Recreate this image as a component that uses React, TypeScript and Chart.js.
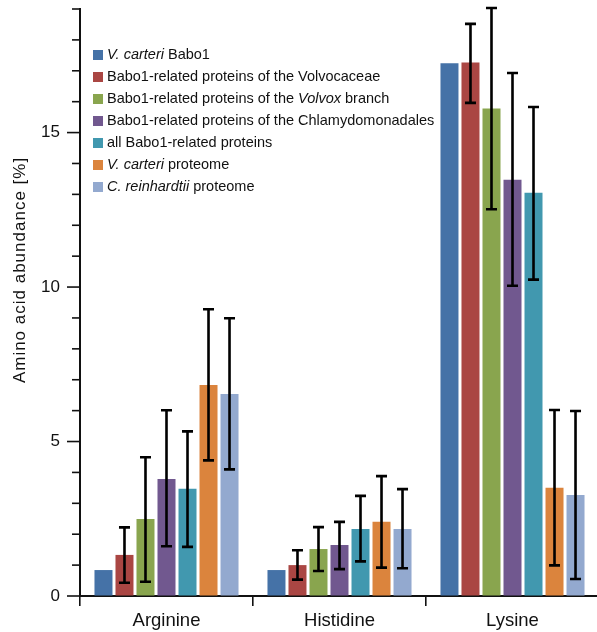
import React, { useEffect, useRef } from 'react';
import { Chart, registerables } from 'chart.js';

Chart.register(...registerables);

const categories = ['Arginine', 'Histidine', 'Lysine'];

const legendTexts: [string, boolean][][] = [
  [['V. carteri', true], [' Babo1', false]],
  [['Babo1-related proteins of the Volvocaceae', false]],
  [['Babo1-related proteins of the ', false], ['Volvox', true], [' branch', false]],
  [['Babo1-related proteins of the Chlamydomonadales', false]],
  [['all Babo1-related proteins', false]],
  [['V. carteri', true], [' proteome', false]],
  [['C. reinhardtii', true], [' proteome', false]],
];
const seriesNames = legendTexts.map((segs) => segs.map((s) => s[0]).join(''));

const seriesColors = ['#4572A7', '#AA4643', '#89A54E', '#71588F', '#4198AF', '#DB843D', '#93A9CF'];

const babo1Values = [0.84, 0.84, 17.24];

const volvocaceaeValues = [1.33, 1.0, 17.27];
const volvocaceaeLow = [0.43, 0.53, 15.96];
const volvocaceaeHigh = [2.22, 1.48, 18.52];

const volvoxValues = [2.49, 1.52, 15.78];
const volvoxLow = [0.46, 0.81, 12.52];
const volvoxHigh = [4.49, 2.23, 19.03];

const chlamyValues = [3.79, 1.65, 13.47];
const chlamyLow = [1.61, 0.87, 10.04];
const chlamyHigh = [6.01, 2.4, 16.93];

const allValues = [3.47, 2.17, 13.05];
const allLow = [1.59, 1.12, 10.24];
const allHigh = [5.33, 3.24, 15.83];

const vcarteriValues = [6.83, 2.4, 3.5];
const vcarteriLow = [4.39, 0.92, 0.99];
const vcarteriHigh = [9.28, 3.88, 6.02];

const creinValues = [6.54, 2.17, 3.27];
const creinLow = [4.1, 0.9, 0.55];
const creinHigh = [8.99, 3.46, 5.99];

const seriesValues = [babo1Values, volvocaceaeValues, volvoxValues, chlamyValues, allValues, vcarteriValues, creinValues];
const seriesLow: (number[] | null)[] = [null, volvocaceaeLow, volvoxLow, chlamyLow, allLow, vcarteriLow, creinLow];
const seriesHigh: (number[] | null)[] = [null, volvocaceaeHigh, volvoxHigh, chlamyHigh, allHigh, vcarteriHigh, creinHigh];

const yMin = 0;
const yMax = 19;
const yTitle = 'Amino acid abundance [%]';

const FONT = '"Liberation Sans", Arial, Helvetica, sans-serif';
const INK = '#111';

const decorPlugin = {
  id: 'decor',
  afterDatasetsDraw(chart: any) {
    const ctx = chart.ctx as CanvasRenderingContext2D;
    const yScale = chart.scales.y;
    const area = chart.chartArea;
    ctx.save();

    // error bars
    ctx.strokeStyle = '#000';
    ctx.lineWidth = 2.6;
    ctx.lineCap = 'butt';
    seriesValues.forEach((_, di) => {
      const lo = seriesLow[di];
      const hi = seriesHigh[di];
      if (!lo || !hi) return;
      const meta = chart.getDatasetMeta(di);
      meta.data.forEach((el: any, j: number) => {
        const x = el.x;
        const y1 = yScale.getPixelForValue(lo[j]);
        const y2 = yScale.getPixelForValue(hi[j]);
        ctx.beginPath();
        ctx.moveTo(x, y1);
        ctx.lineTo(x, y2);
        ctx.moveTo(x - 5.5, y1);
        ctx.lineTo(x + 5.5, y1);
        ctx.moveTo(x - 5.5, y2);
        ctx.lineTo(x + 5.5, y2);
        ctx.stroke();
      });
    });

    // y ticks (major + minor)
    ctx.strokeStyle = INK;
    ctx.lineWidth = 1.6;
    for (let v = yMin; v <= yMax; v++) {
      const y = yScale.getPixelForValue(v);
      const len = v % 5 === 0 ? 13 : 8;
      ctx.beginPath();
      ctx.moveTo(area.left - len, y);
      ctx.lineTo(area.left, y);
      ctx.stroke();
    }

    // legend
    ctx.textBaseline = 'middle';
    ctx.textAlign = 'left';
    legendTexts.forEach((segs, i) => {
      const y = 55 + 22 * i;
      ctx.fillStyle = seriesColors[i];
      ctx.fillRect(93, y - 5, 10, 10);
      let x = 107;
      ctx.fillStyle = INK;
      segs.forEach(([t, it]) => {
        ctx.font = `${it ? 'italic ' : ''}14.5px ${FONT}`;
        ctx.fillText(t, x, y);
        x += ctx.measureText(t).width;
      });
    });

    // y title
    ctx.translate(20, 270);
    ctx.rotate(-Math.PI / 2);
    ctx.textAlign = 'center';
    ctx.textBaseline = 'middle';
    ctx.font = `17px ${FONT}`;
    (ctx as any).letterSpacing = '1px';
    ctx.fillStyle = INK;
    ctx.fillText(yTitle, 0, 0);
    ctx.restore();
  },
};

export default function App() {
  const ref = useRef<HTMLCanvasElement | null>(null);
  useEffect(() => {
    if (!ref.current) return;
    const chart = new Chart(ref.current, {
      type: 'bar',
      data: {
        labels: categories,
        datasets: seriesValues.map((vals, i) => ({
          label: seriesNames[i],
          data: vals,
          backgroundColor: seriesColors[i],
          borderWidth: 0,
          categoryPercentage: 0.85,
          barPercentage: 0.857,
        })),
      },
      options: {
        responsive: false,
        animation: false,
        devicePixelRatio: 1,
        layout: { padding: { top: 9, right: 1, left: 0, bottom: 0 } },
        plugins: { legend: { display: false }, tooltip: { enabled: false } },
        scales: {
          x: {
            offset: true,
            grid: { offset: true, drawOnChartArea: false, drawTicks: true, tickLength: 10, color: INK, lineWidth: 1.6 },
            border: { display: true, color: INK, width: 2 },
            ticks: { font: { family: FONT, size: 18.5 }, color: INK, padding: 4, maxRotation: 0, autoSkip: false },
            afterFit: (s: any) => {
              s.height = 36;
              s.paddingLeft = 0;
              s.paddingRight = 0;
            },
          },
          y: {
            min: yMin,
            max: yMax,
            ticks: {
              stepSize: 1,
              autoSkip: false,
              callback: (v: any) => (Number(v) % 5 === 0 ? String(v) : ''),
              font: { family: FONT, size: 17 },
              color: INK,
              padding: 7,
            },
            grid: { drawOnChartArea: false, drawTicks: true, tickLength: 13, color: 'rgba(0,0,0,0)' },
            border: { display: true, color: INK, width: 2 },
            afterFit: (s: any) => {
              s.width = 80;
              s.paddingTop = 0;
              s.paddingBottom = 0;
            },
          },
        },
      },
      plugins: [decorPlugin],
    });
    return () => chart.destroy();
  }, []);
  return (
    <div style={{ position: 'fixed', left: 0, top: 0, width: 597, height: 632, overflow: 'hidden', background: '#fff' }}>
      <canvas ref={ref} width={600} height={632} style={{ width: 600, height: 632, display: 'block' }} />
    </div>
  );
}
